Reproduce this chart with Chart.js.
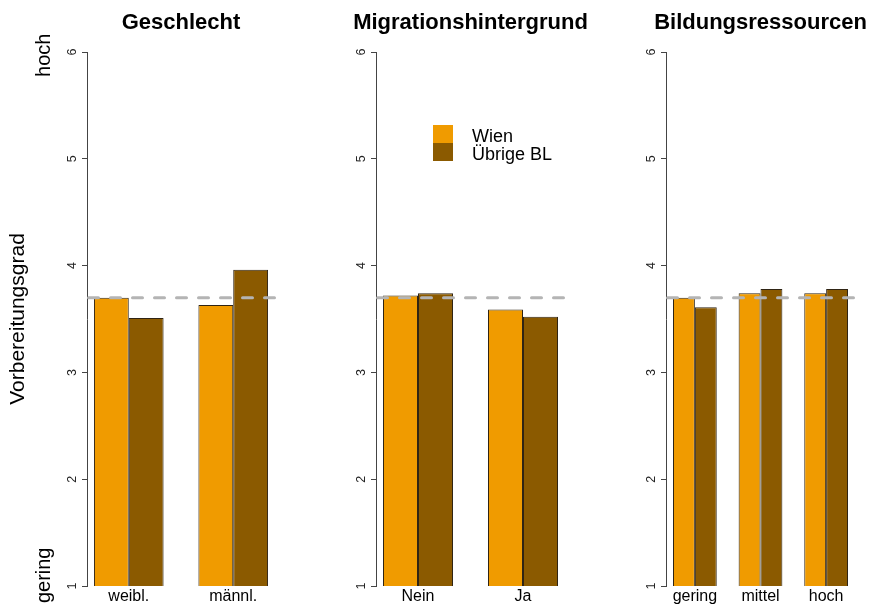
<!DOCTYPE html>
<html>
<head>
<meta charset="utf-8">
<script src="https://cdn.jsdelivr.net/npm/chart.js@4.4.1/dist/chart.umd.min.js"></script>
<style>
  body { margin: 0; background: #fff; }
  #wrap { position: relative; width: 870px; height: 605px; overflow: hidden; }
  #wrap canvas { position: absolute; top: 0; }
</style>
</head>
<body>
<div id="wrap">
  <canvas id="c1" width="320" height="605" style="left:0px"></canvas>
  <canvas id="c2" width="320" height="605" style="left:290px"></canvas>
  <canvas id="c3" width="290" height="605" style="left:580px"></canvas>
</div>
<script>
// ===== Data =====
const seriesNames = ['Wien', 'Übrige BL'];
const panelTitles = ['Geschlecht', 'Migrationshintergrund', 'Bildungsressourcen'];

const geschlechtCats = ['weibl.', 'männl.'];
const geschlechtWien = [3.70, 3.63];
const geschlechtUebrige = [3.51, 3.96];

const migrationCats = ['Nein', 'Ja'];
const migrationWien = [3.72, 3.59];
const migrationUebrige = [3.74, 3.52];

const bildungCats = ['gering', 'mittel', 'hoch'];
const bildungWien = [3.70, 3.74, 3.74];
const bildungUebrige = [3.61, 3.78, 3.78];

const overallMean = 3.70;          // dashed reference line
const yTicks = [1, 2, 3, 4, 5, 6];
const yAxisTitle = 'Vorbereitungsgrad';
const scaleEnds = [{ text: 'gering', at: 1.10 }, { text: 'hoch', at: 5.97 }];

const colWien = '#F09B00';
const colUebrige = '#8B5A00';
const barEdge = '#2f2414';

Chart.defaults.font.family = '"Liberation Sans", Arial, sans-serif';
Chart.defaults.color = '#000';

// bold title centred over the plot region
const panelTitle = {
  id: 'panelTitle',
  afterDraw(chart, args, opts) {
    const { ctx, chartArea: a } = chart;
    ctx.save();
    ctx.font = 'bold 22px "Liberation Sans", Arial, sans-serif';
    ctx.fillStyle = '#000';
    ctx.textAlign = 'center';
    ctx.textBaseline = 'alphabetic';
    ctx.fillText(opts.text, (a.left + a.right) / 2, 29);
    ctx.restore();
  }
};

// dashed mean line across the plot region
const meanLine = {
  id: 'meanLine',
  afterDatasetsDraw(chart) {
    const { ctx, chartArea: a, scales: { y } } = chart;
    const yy = y.getPixelForValue(overallMean);
    ctx.save();
    ctx.strokeStyle = '#b4b4b4';
    ctx.lineWidth = 3;
    ctx.lineCap = 'round';
    ctx.setLineDash([10, 12]);
    ctx.beginPath();
    ctx.moveTo(a.left + 1.5, yy);
    ctx.lineTo(a.right, yy);
    ctx.stroke();
    ctx.restore();
  }
};

// filled-box legend (only in the middle panel)
const boxLegend = {
  id: 'boxLegend',
  afterDraw(chart, args, opts) {
    if (!opts.show) return;
    const ctx = chart.ctx;
    ctx.save();
    ctx.font = '18px "Liberation Sans", Arial, sans-serif';
    ctx.textBaseline = 'alphabetic';
    chart.data.datasets.forEach((ds, i) => {
      const top = opts.y + i * opts.step;
      ctx.fillStyle = ds.backgroundColor;
      ctx.fillRect(opts.x, top, 20, opts.step);
      ctx.fillStyle = '#000';
      ctx.fillText(ds.label, opts.x + 39, top + 17);
    });
    ctx.restore();
  }
};

// "hoch" / "gering" in the left margin
const sideLabels = {
  id: 'sideLabels',
  afterDraw(chart, args, opts) {
    if (!opts.items) return;
    const { ctx, scales: { y } } = chart;
    ctx.save();
    ctx.font = '20px "Liberation Sans", Arial, sans-serif';
    ctx.fillStyle = '#000';
    ctx.textAlign = 'center';
    opts.items.forEach(it => {
      ctx.save();
      ctx.translate(opts.x, y.getPixelForValue(it.at));
      ctx.rotate(-Math.PI / 2);
      ctx.fillText(it.text, 0, 0);
      ctx.restore();
    });
    ctx.restore();
  }
};

function makePanel(id, cats, wien, uebrige, title, axisWidth, padRight, first, legend) {
  // R barplot layout: groups 3 units apart, 4% extra on each side
  const pad = (1 + 0.04 * (3 * cats.length - 1)) / 3;
  return new Chart(document.getElementById(id), {
    type: 'bar',
    data: {
      datasets: [
        { label: seriesNames[0], data: wien.map((v, i) => ({ x: i, y: v })),
          backgroundColor: colWien, borderColor: barEdge, borderWidth: 1 },
        { label: seriesNames[1], data: uebrige.map((v, i) => ({ x: i, y: v })),
          backgroundColor: colUebrige, borderColor: barEdge, borderWidth: 1 }
      ]
    },
    options: {
      responsive: false,
      animation: false,
      categoryPercentage: 2 / 3,
      barPercentage: 1,
      layout: { padding: { left: 0, right: padRight, top: 52, bottom: 0 } },
      scales: {
        x: {
          type: 'linear',
          offset: false,
          min: -pad,
          max: cats.length - 1 + pad,
          afterBuildTicks: s => { s.ticks = cats.map((c, i) => ({ value: i })); },
          ticks: { callback: v => cats[v], font: { size: 16 }, color: '#000', padding: 1, autoSkip: false, maxRotation: 0 },
          grid: { display: false, drawTicks: false },
          border: { display: false },
          afterFit: s => { s.height = 19; }
        },
        y: {
          min: 1,
          max: 6,
          beginAtZero: false,
          afterBuildTicks: s => { s.ticks = yTicks.map(v => ({ value: v })); },
          ticks: { font: { size: 12.5 }, color: '#222', minRotation: 90, maxRotation: 90, crossAlign: 'center', padding: 6 },
          grid: { drawOnChartArea: false, drawTicks: true, tickLength: 5, color: '#444' },
          border: { display: true, color: '#444', width: 1 },
          title: first
            ? { display: true, text: yAxisTitle, font: { size: 21, lineHeight: 1.2 }, color: '#000', padding: { top: 6, bottom: 0 } }
            : { display: false },
          afterFit: s => { s.width = axisWidth; }
        }
      },
      plugins: {
        legend: { display: false },
        tooltip: { enabled: false },
        title: { display: false },
        panelTitle: { text: title },
        boxLegend: legend ? { show: true, x: 143, y: 125, step: 18 } : { show: false },
        sideLabels: first ? { x: 50, items: scaleEnds } : {}
      }
    },
    plugins: [panelTitle, meanLine, boxLegend, sideLabels]
  });
}

makePanel('c1', geschlechtCats, geschlechtWien, geschlechtUebrige, panelTitles[0], 87, 45, true, false);
makePanel('c2', migrationCats, migrationWien, migrationUebrige, panelTitles[1], 86, 45, false, true);
makePanel('c3', bildungCats, bildungWien, bildungUebrige, panelTitles[2], 86, 15, false, false);
</script>
</body>
</html>
